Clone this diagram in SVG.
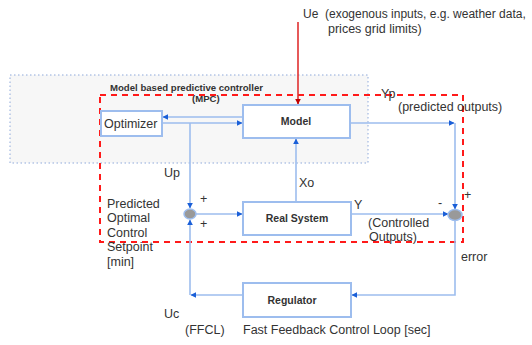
<svg xmlns="http://www.w3.org/2000/svg" width="532" height="345" viewBox="0 0 532 345">
<style>
text{font-family:"Liberation Sans",Arial,sans-serif;fill:#333;font-size:12.5px}
.b{font-weight:bold;font-size:10.5px}
.t{font-weight:bold;font-size:9.6px}
.box{fill:#fff;stroke:#9dbdee;stroke-width:2}
.ln{fill:none;stroke:#9dbdee;stroke-width:1.6}
.sum{fill:#999;stroke:#9dbdee;stroke-width:1.5}
</style>
<defs>
<marker id="a" viewBox="0 0 10 10" refX="9" refY="5" markerWidth="6" markerHeight="6" orient="auto" markerUnits="userSpaceOnUse"><path d="M0,0L10,5L0,10z" fill="#1a5fd8"/></marker>
<marker id="r" viewBox="0 0 10 10" refX="9" refY="5" markerWidth="6" markerHeight="6" orient="auto" markerUnits="userSpaceOnUse"><path d="M0,0L10,5L0,10z" fill="#c00000"/></marker>
</defs>
<rect x="10" y="75" width="358" height="88" fill="#f7f7f7" stroke="#8ea9db" stroke-width="1" stroke-dasharray="1.5,2.5"/>
<g id="mpc">
<rect x="100" y="95" width="363" height="147" fill="none" stroke="#ff1a1a" stroke-width="2" stroke-dasharray="6,5"/>
<text class="t" x="110" y="91">Model based predictive controller</text>
<text class="t" x="192" y="102">(MPC)</text>
</g>
<g id="connectors">
<path class="ln" d="M243,117H163" marker-end="url(#a)"/>
<path class="ln" d="M162,123H242" marker-end="url(#a)"/>
<path class="ln" d="M190,123V208" marker-end="url(#a)"/>
<path class="ln" d="M196,214H242" marker-end="url(#a)"/>
<path class="ln" d="M296,202V139" marker-end="url(#a)"/>
<path class="ln" d="M350,123H454" marker-end="url(#a)"/>
<path class="ln" d="M455,123V209" marker-end="url(#a)"/>
<path class="ln" d="M351,214H448" marker-end="url(#a)"/>
<path class="ln" d="M455,220V295H352" marker-end="url(#a)"/>
<path class="ln" d="M243,295H191" marker-end="url(#a)"/>
<path class="ln" d="M190,295V220" marker-end="url(#a)"/>
<path d="M298,22V104" stroke="#e03030" stroke-width="1.6" fill="none" marker-end="url(#r)"/>
</g>
<g id="optimizer">
<rect class="box" x="101" y="111" width="61" height="25"/>
<text x="104" y="128" font-size="12.5">Optimizer</text>
</g>
<g id="model">
<rect class="box" x="243" y="105" width="107" height="33"/>
<text class="b" x="296" y="125" text-anchor="middle">Model</text>
</g>
<g id="realsystem">
<rect class="box" x="243" y="202" width="108" height="33"/>
<text class="b" x="297" y="222" text-anchor="middle">Real System</text>
</g>
<g id="regulator">
<rect class="box" x="243" y="283" width="108" height="34"/>
<text class="b" x="292" y="304" text-anchor="middle">Regulator</text>
</g>
<g id="sum1">
<ellipse class="sum" cx="190" cy="214" rx="6" ry="5"/>
<text x="200" y="203">+</text>
<text x="200" y="228">+</text>
</g>
<g id="sum2">
<ellipse class="sum" cx="455" cy="215" rx="7" ry="5.5"/>
<text x="438" y="207">-</text>
<text x="464" y="199">+</text>
</g>
<g id="labels">
<text x="303" y="18" style="white-space:pre;font-size:12px">Ue  (exogenous inputs, e.g. weather data,</text>
<text x="328" y="33">prices grid limits)</text>
<text x="381" y="98">Yp</text>
<text x="398" y="111">(predicted outputs)</text>
<text x="164" y="177">Up</text>
<text x="299" y="187">Xo</text>
<text x="107" y="208">Predicted</text>
<text x="107" y="222">Optimal</text>
<text x="107" y="237">Control</text>
<text x="107" y="251">Setpoint</text>
<text x="107" y="266">[min]</text>
<text x="354" y="209">Y</text>
<text x="368" y="227">(Controlled</text>
<text x="369" y="241">Outputs)</text>
<text x="461" y="261">error</text>
<text x="164" y="318">Uc</text>
<text x="185" y="334">(FFCL)</text>
<text x="243" y="334">Fast Feedback Control Loop [sec]</text>
</g>
</svg>
